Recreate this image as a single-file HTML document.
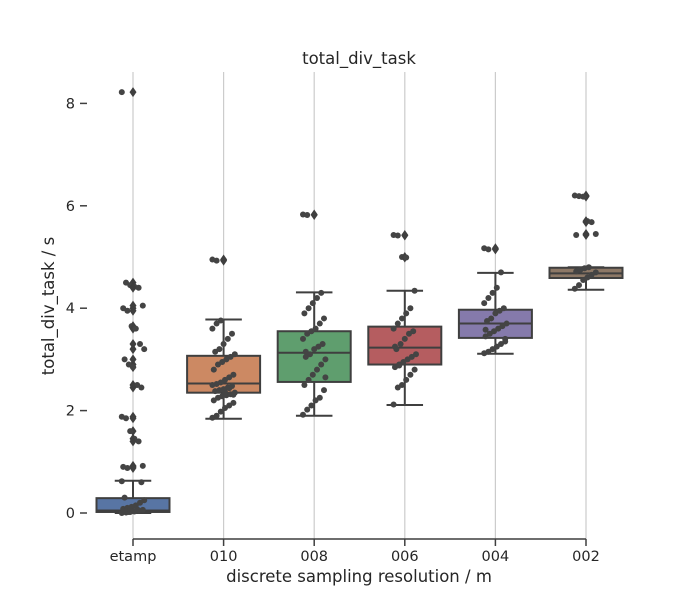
<!DOCTYPE html>
<html><head><meta charset="utf-8"><style>
body{margin:0;background:#fff}
svg{display:block;font-family:"DejaVu Sans","Liberation Sans",sans-serif}
</style></head><body>
<svg id="chart" width="700" height="600">
<text x="359" y="64" text-anchor="middle" font-size="16.5" fill="#262626">total_div_task</text>
<text transform="translate(54,306) rotate(-90)" text-anchor="middle" font-size="16.5" fill="#262626">total_div_task / s</text>
<text x="359" y="582" text-anchor="middle" font-size="16.5" fill="#262626">discrete sampling resolution / m</text>
<g id="grid"></g><g id="boxes"></g><g id="pts"></g><g id="axes"></g>
</svg>
<script>
const categories=["etamp","010","008","006","004","002"];
const q1=[0.02,2.35,2.56,2.90,3.42,4.59];
const medians=[0.05,2.53,3.13,3.23,3.70,4.68];
const q3=[0.29,3.07,3.55,3.64,3.97,4.79];
const whiskLo=[0.0,1.84,1.90,2.11,3.11,4.36];
const whiskHi=[0.63,3.78,4.31,4.34,4.69,4.80];
const outliers=[[8.22,4.5,4.45,4.42,4.4,4.05,4.0,3.95,3.65,3.6,3.3,3.2,3.0,2.9,2.85,2.5,2.45,1.88,1.85,1.6,1.45,1.4,0.92,0.9,0.88],[4.95,4.93],[5.83,5.82],[5.43,5.42,5.0,4.99],[5.17,5.15],[6.2,6.19,6.18,5.7,5.68,5.45,5.43]];
const strip=[
[0.0,0.01,0.02,0.03,0.05,0.06,0.08,0.1,0.12,0.15,0.2,0.25,0.3,0.02,0.04,0.07,0.6,0.62,0.03,0.05],
[1.86,1.9,1.98,2.05,2.1,2.15,2.2,2.25,2.28,2.3,2.32,2.35,2.38,2.4,2.42,2.45,2.48,2.5,2.52,2.55,2.6,2.65,2.7,2.8,2.9,2.95,3.0,3.05,3.1,3.15,3.2,3.3,3.4,3.5,3.6,3.7,3.76,2.36,2.44,2.31],
[1.92,2.02,2.1,2.2,2.25,2.4,2.5,2.6,2.7,2.8,2.9,3.0,3.05,3.1,3.2,3.25,3.3,3.4,3.5,3.55,3.6,3.7,3.8,3.9,4.0,4.1,4.2,4.3,2.65,3.15],
[2.12,2.45,2.5,2.6,2.7,2.8,2.85,2.9,2.95,3.0,3.05,3.1,3.2,3.3,3.4,3.5,3.55,3.6,3.7,3.8,3.9,4.0,4.34,3.25,2.88],
[3.12,3.15,3.2,3.25,3.3,3.4,3.45,3.5,3.55,3.6,3.65,3.7,3.75,3.8,3.9,3.95,4.0,4.1,4.2,4.3,4.4,4.7,3.35,3.58],
[4.38,4.45,4.55,4.6,4.65,4.7,4.72,4.75,4.78,4.8]];
const colors=["#5875a4","#cc8963","#5f9e6e","#b55d60","#857aab","#8d7866"];
const ticks=[0,2,4,6,8];
const NS="http://www.w3.org/2000/svg";
const X0=133,DX=90.6,Y0=513,SY=51.2;
const xs=i=>X0+i*DX, ys=v=>Y0-v*SY;
function mk(p,t,a){const e=document.createElementNS(NS,t);for(const k in a)e.setAttribute(k,a[k]);document.getElementById(p).appendChild(e);return e;}
const E="#3f3f3f";
categories.forEach((c,i)=>{
 const x=xs(i);
 const g=mk("grid","line",{x1:x,x2:x,y1:72,y2:539,stroke:"#cccccc","stroke-width":1.2});
 
 
 const w=73;
 const l1=mk("boxes","line",{x1:x,x2:x,y1:ys(whiskLo[i]),y2:ys(q1[i]),stroke:E,"stroke-width":2});
 
 
 const l2=mk("boxes","line",{x1:x,x2:x,y1:ys(q3[i]),y2:ys(whiskHi[i]),stroke:E,"stroke-width":2});
 
 
 [whiskLo[i],whiskHi[i]].forEach(v=>{const c2=mk("boxes","line",{x1:x-w/4,x2:x+w/4,y1:ys(v),y2:ys(v),stroke:E,"stroke-width":2});
 
 });
 const r=mk("boxes","rect",{x:x-w/2,y:ys(q3[i]),width:w,height:ys(q1[i])-ys(q3[i]),fill:colors[i],stroke:E,"stroke-width":2});
 
 
 const m=mk("boxes","line",{x1:x-w/2,x2:x+w/2,y1:ys(medians[i]),y2:ys(medians[i]),stroke:E,"stroke-width":2});
 
 
 outliers[i].forEach((v,j)=>{const d=mk("pts","path",{d:`M${x} ${ys(v)-5}L${x+3.5} ${ys(v)}L${x} ${ys(v)+5}L${x-3.5} ${ys(v)}Z`,fill:E});
 
 
 const jx=((j*37)%17-8)*1.4;
 const p=mk("pts","circle",{cx:x+jx,cy:ys(v),r:3,fill:"#444"});
 
 });
 strip[i].forEach((v,j)=>{const jx=((j*37)%17-8)*1.4;
 const p=mk("pts","circle",{cx:x+jx,cy:ys(v),r:3,fill:"#444"});
 
 });
 const t=mk("axes","line",{x1:x,x2:x,y1:539,y2:546,stroke:E,"stroke-width":1.5});
 
 
 const tl=mk("axes","text",{x:x,y:561,"text-anchor":"middle","font-size":14.5,fill:"#262626"});
 tl.textContent=c;
 
 
});
const ax=mk("axes","line",{x1:xs(0),x2:xs(5),y1:539,y2:539,stroke:E,"stroke-width":1.5});


ticks.forEach(v=>{
 const t=mk("axes","line",{x1:80,x2:87,y1:ys(v),y2:ys(v),stroke:E,"stroke-width":1.5});
 
 
 const tl=mk("axes","text",{x:75,y:ys(v)+5,"text-anchor":"end","font-size":14.5,fill:"#262626"});
 tl.textContent=v;
 
 
});
</script>
</body></html>
